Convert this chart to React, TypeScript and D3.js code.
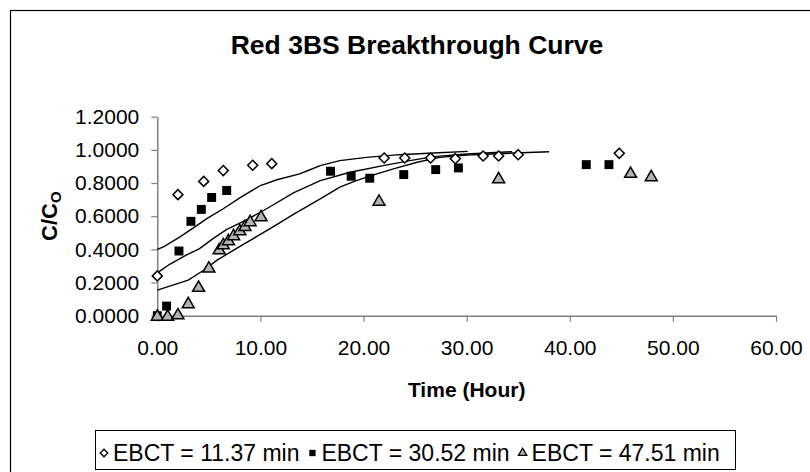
import * as d3 from "d3";
import { useEffect, useRef } from "react";

// measured points, C/Co vs time (hour)
const ebct1137Time = [0, 2.0, 4.5, 6.4, 9.25, 11.1, 22.0, 24.0, 26.5, 28.9, 31.6, 33.1, 35.0, 44.8];
const ebct1137C = [0.24, 0.73, 0.81, 0.875, 0.907, 0.917, 0.951, 0.951, 0.951, 0.947, 0.963, 0.963, 0.971, 0.979];

const ebct3052Time = [0, 0.9, 2.1, 3.26, 4.27, 5.27, 6.73, 16.8, 18.8, 20.6, 23.9, 27.0, 29.2, 41.6, 43.8];
const ebct3052C = [0, 0.058, 0.39, 0.569, 0.641, 0.713, 0.755, 0.871, 0.841, 0.829, 0.851, 0.881, 0.891, 0.911, 0.911];

const ebct4751Time = [0, 1.0, 2.0, 3.0, 4.0, 5.0, 6.0, 6.4, 6.9, 7.4, 8.0, 8.5, 9.0, 10.06, 21.5, 33.1, 45.9, 47.9];
const ebct4751C = [0, 0, 0.008, 0.075, 0.174, 0.29, 0.4, 0.43, 0.455, 0.485, 0.515, 0.54, 0.57, 0.599, 0.693, 0.829, 0.861, 0.841];

// model curves
const model1Time = [0, 0.6, 2.2, 3.5, 4.8, 6.4, 8.0, 10.0, 11.6, 13.8, 14.8, 15.8, 17.7, 20.3, 23.5, 26.8, 30.1];
const model1C = [0.4, 0.415, 0.475, 0.53, 0.585, 0.645, 0.711, 0.785, 0.82, 0.855, 0.88, 0.905, 0.935, 0.955, 0.971, 0.981, 0.991];

const model2Time = [0, 1.2, 2.8, 4.1, 5.4, 6.7, 8.7, 10.6, 13.2, 15.8, 18.7, 21.9, 24.5, 26.8, 30.0, 34.4];
const model2C = [0.258, 0.31, 0.365, 0.405, 0.465, 0.519, 0.579, 0.645, 0.74, 0.815, 0.865, 0.905, 0.935, 0.959, 0.975, 0.989];

const model3Time = [0, 1.2, 3.0, 4.5, 5.8, 7.4, 9.3, 11.3, 13.2, 15.8, 17.7, 19.3, 21.3, 22.9, 25.2, 27.4, 30.7, 34.6, 38.0];
const model3C = [0.154, 0.178, 0.214, 0.274, 0.335, 0.395, 0.465, 0.539, 0.611, 0.705, 0.775, 0.815, 0.855, 0.885, 0.925, 0.955, 0.971, 0.981, 0.989];

const xTicks = [0, 10, 20, 30, 40, 50, 60];
const yTicks = [0, 0.2, 0.4, 0.6, 0.8, 1.0, 1.2];
const legendLabels = ["EBCT = 11.37 min", "EBCT = 30.52 min", "EBCT = 47.51 min"];

const FONT = "'Liberation Sans', Arial, sans-serif";

const App = () => {
  const svgRef = useRef<SVGSVGElement>(null);

  useEffect(() => {
    const width = 810;
    const height = 472;
    const svg = d3.select(svgRef.current).attr("width", width).attr("height", height);
    svg.selectAll("*").remove();

    // outer chart border
    svg
      .append("rect")
      .attr("x", 10.5)
      .attr("y", 10.5)
      .attr("width", 820)
      .attr("height", 480)
      .attr("fill", "white")
      .attr("stroke", "black")
      .attr("stroke-width", 1.2);

    const x = d3.scaleLinear().domain([0, 60]).range([157.3, 776]);
    const y = d3.scaleLinear().domain([0, 1.2]).range([315.7, 116.7]);

    // title
    svg
      .append("text")
      .attr("x", 417)
      .attr("y", 54)
      .attr("text-anchor", "middle")
      .attr("font-family", FONT)
      .attr("font-weight", "bold")
      .attr("font-size", 26.5)
      .text("Red 3BS Breakthrough Curve");

    // axes
    const xAxis = svg
      .append("g")
      .attr("transform", `translate(0,${y(0)})`)
      .call(
        d3
          .axisBottom(x)
          .tickValues(xTicks)
          .tickFormat(d3.format(".2f"))
          .tickSize(6)
          .tickSizeOuter(0)
          .tickPadding(18)
      );
    const yAxis = svg
      .append("g")
      .attr("transform", `translate(${x(0)},0)`)
      .call(
        d3
          .axisLeft(y)
          .tickValues(yTicks)
          .tickFormat(d3.format(".4f"))
          .tickSize(6)
          .tickSizeOuter(0)
          .tickPadding(12)
      );
    [xAxis, yAxis].forEach((g) => {
      g.select(".domain").attr("stroke", "#808080").attr("stroke-width", 1.5);
      g.selectAll(".tick line").attr("stroke", "#808080").attr("stroke-width", 1.2);
      g.selectAll(".tick text")
        .attr("font-family", FONT)
        .attr("font-size", 21)
        .attr("fill", "black");
    });

    // axis titles
    svg
      .append("text")
      .attr("x", (x(0) + x(60)) / 2)
      .attr("y", 397)
      .attr("text-anchor", "middle")
      .attr("font-family", FONT)
      .attr("font-weight", "bold")
      .attr("font-size", 21)
      .text("Time (Hour)");

    const yTitle = svg
      .append("text")
      .attr("transform", `translate(57,${(y(0) + y(1.2)) / 2}) rotate(-90)`)
      .attr("text-anchor", "middle")
      .attr("font-family", FONT)
      .attr("font-weight", "bold")
      .attr("font-size", 22);
    yTitle.append("tspan").text("C/C");
    yTitle.append("tspan").attr("font-size", 15).attr("dy", 4).text("O");

    // model lines
    const line = d3
      .line<[number, number]>()
      .x((d) => x(d[0]))
      .y((d) => y(d[1]));
    [
      [model1Time, model1C],
      [model2Time, model2C],
      [model3Time, model3C],
    ].forEach(([t, c]) => {
      svg
        .append("path")
        .attr("d", line(t.map((v, i) => [v, c[i]] as [number, number])))
        .attr("fill", "none")
        .attr("stroke", "black")
        .attr("stroke-width", 1.4);
    });

    const diamond = d3.symbol(d3.symbolDiamond2, 64);
    const square = d3.symbol(d3.symbolSquare, 80);
    const triangle = d3.symbol(d3.symbolTriangle, 62);

    // markers
    const pts = svg.append("g");
    pts
      .selectAll(".sq")
      .data(ebct3052Time.map((t, i) => [t, ebct3052C[i]]))
      .join("path")
      .attr("transform", (d) => `translate(${x(d[0])},${y(d[1])})`)
      .attr("d", square())
      .attr("fill", "black");
    pts
      .selectAll(".tri")
      .data(ebct4751Time.map((t, i) => [t, ebct4751C[i]]))
      .join("path")
      .attr("transform", (d) => `translate(${x(d[0])},${y(d[1]) + 1})`)
      .attr("d", triangle())
      .attr("fill", "#b3b3b3")
      .attr("stroke", "black")
      .attr("stroke-width", 1.5);
    pts
      .selectAll(".dia")
      .data(ebct1137Time.map((t, i) => [t, ebct1137C[i]]))
      .join("path")
      .attr("transform", (d) => `translate(${x(d[0])},${y(d[1])})`)
      .attr("d", diamond())
      .attr("fill", "white")
      .attr("stroke", "black")
      .attr("stroke-width", 1.5);

    // legend
    svg
      .append("rect")
      .attr("x", 95.5)
      .attr("y", 430.5)
      .attr("width", 640)
      .attr("height", 39)
      .attr("fill", "white")
      .attr("stroke", "black")
      .attr("stroke-width", 1);

    const legendSymbols = [
      { d: d3.symbol(d3.symbolDiamond2, 36)(), fill: "white", stroke: "black" },
      { d: d3.symbol(d3.symbolSquare, 40)(), fill: "black", stroke: "none" },
      { d: d3.symbol(d3.symbolTriangle, 30)(), fill: "#b3b3b3", stroke: "black" },
    ];
    let cx = 104;
    legendLabels.forEach((label, i) => {
      const s = legendSymbols[i];
      svg
        .append("path")
        .attr("transform", `translate(${cx},453)`)
        .attr("d", s.d)
        .attr("fill", s.fill)
        .attr("stroke", s.stroke)
        .attr("stroke-width", 1.3);
      const t = svg
        .append("text")
        .attr("x", cx + 9)
        .attr("y", 461)
        .attr("font-family", FONT)
        .attr("font-size", 23)
        .text(label);
      const w = (t.node() as SVGTextElement).getComputedTextLength();
      cx = cx + 9 + w + 13;
    });
  }, []);

  return <svg ref={svgRef} style={{ position: "absolute", left: 0, top: 0 }}></svg>;
};

export default App;
